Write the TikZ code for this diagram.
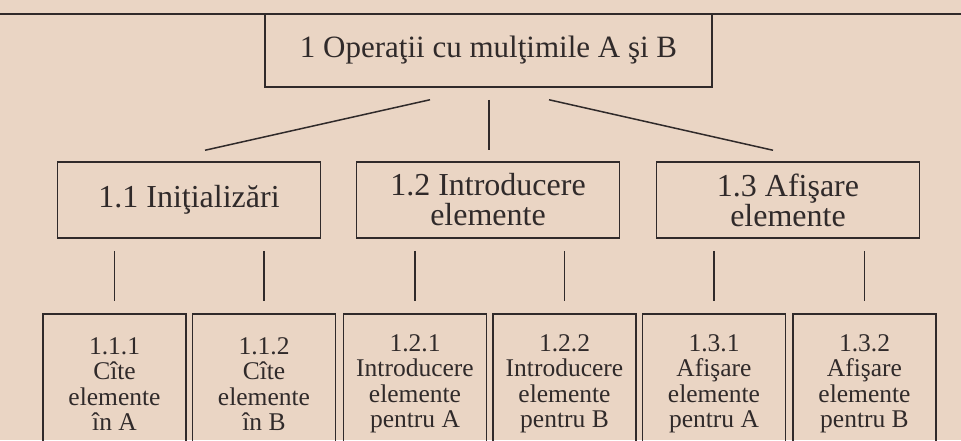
\documentclass[tikz,border=0pt]{standalone}
\usepackage{fontspec}
\setmainfont{Liberation Serif}
\usetikzlibrary{calc}

\definecolor{paper}{RGB}{234,213,196}
\definecolor{ink}{RGB}{48,42,42}

\tikzset{
    lvlzero/.style={draw=ink, line width=1.5pt, minimum width=447pt, minimum height=73pt, inner sep=0pt, text=ink, font=\fontsize{31}{30}\selectfont},
    lvlone/.style={draw=ink, line width=1.5pt, minimum width=263pt, minimum height=76pt, inner sep=0pt, align=center, text=ink, font=\fontsize{32}{30}\selectfont},
    lvltwo/.style={draw=ink, line width=1.4pt, minimum width=143pt, minimum height=140pt, inner sep=0pt, align=center, text=ink, font=\fontsize{25.5}{25.5}\selectfont},
    link/.style={draw=ink, line width=1.5pt},
}

\begin{document}
\begin{tikzpicture}[x=1pt,y=1pt,yscale=-1,xscale=1]
        \useasboundingbox (0,0) rectangle (961,440);
        \fill [paper] (0,0) rectangle (961,440);
        \clip (0,0) rectangle (961,440);

        %Straight Lines (rule above the chart)
        \draw [ink, line width=2.2pt] (0,14) -- (961,14);

        % Text Node
        \node [lvlzero] (top) at (488.5,50.5) {1 Operaţii cu mulţimile A şi B};

        % Text Node
        \node [lvlone] (b11) at (189,200) {1.1 Iniţializări};
        % Text Node
        \node [lvlone] (b12) at (488,200) {1.2 Introducere\\elemente};
        % Text Node
        \node [lvlone] (b13) at (788,200) {1.3 Afişare\\elemente};

        % Text Node
        \node [lvltwo] (b111) at (114.5,384) {1.1.1\\Cîte\\elemente\\în A};
        % Text Node
        \node [lvltwo] (b112) at (264,384) {1.1.2\\Cîte\\elemente\\în B};
        % Text Node
        \node [lvltwo] (b121) at (415,384) {1.2.1\\Introducere\\elemente\\pentru A};
        % Text Node
        \node [lvltwo] (b122) at (564.5,384) {1.2.2\\Introducere\\elemente\\pentru B};
        % Text Node
        \node [lvltwo] (b131) at (714,384) {1.3.1\\Afişare\\elemente\\pentru A};
        % Text Node
        \node [lvltwo] (b132) at (864.5,384) {1.3.2\\Afişare\\elemente\\pentru B};

        %Straight Lines
        \draw [link] ($(top.south)+(-58.5,12)$) -- ($(b11.north)+(16,-11)$);
        %Straight Lines
        \draw [link] ($(top.south)+(0.5,12)$) -- ($(b12.north)+(1,-11)$);
        %Straight Lines
        \draw [link] ($(top.south)+(60.5,12)$) -- ($(b13.north)+(-15,-11)$);

        %Straight Lines
        \draw [link] ($(b111.north |- b11.south)+(0,12)$) -- ($(b111.north)+(0,-12)$);
        %Straight Lines
        \draw [link] ($(b112.north |- b11.south)+(0,12)$) -- ($(b112.north)+(0,-12)$);
        %Straight Lines
        \draw [link] ($(b121.north |- b12.south)+(0,12)$) -- ($(b121.north)+(0,-12)$);
        %Straight Lines
        \draw [link] ($(b122.north |- b12.south)+(0,12)$) -- ($(b122.north)+(0,-12)$);
        %Straight Lines
        \draw [link] ($(b131.north |- b13.south)+(0,12)$) -- ($(b131.north)+(0,-12)$);
        %Straight Lines
        \draw [link] ($(b132.north |- b13.south)+(0,12)$) -- ($(b132.north)+(0,-12)$);

\end{tikzpicture}
\end{document}
